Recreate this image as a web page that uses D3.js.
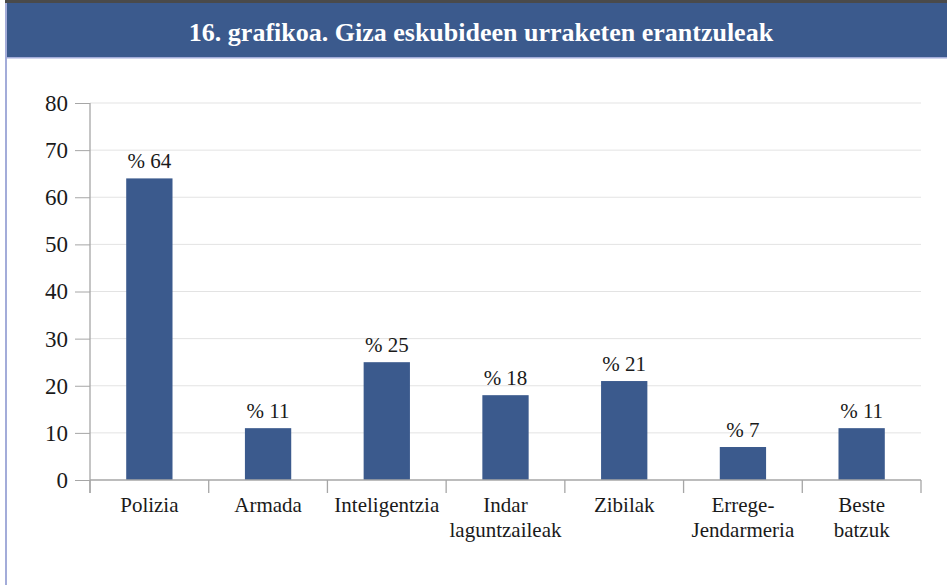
<!DOCTYPE html>
<html>
<head>
<meta charset="utf-8">
<script src="https://cdn.jsdelivr.net/npm/d3@7"></script>
<style>
  html, body { margin: 0; padding: 0; background: #fff; }
  svg { display: block; }
  svg text { font-family: "Liberation Serif", "Times New Roman", Tinos, "Nimbus Roman", "DejaVu Serif", serif; }
</style>
</head>
<body>
<div id="chart"></div>
<script>
// 16. grafikoa - bar chart of perpetrators, values in percent
var title = '16. grafikoa. Giza eskubideen urraketen erantzuleak';
var categories = [
    ['Polizia'],
    ['Armada'],
    ['Inteligentzia'],
    ['Indar', 'laguntzaileak'],
    ['Zibilak'],
    ['Errege-', 'Jendarmeria'],
    ['Beste', 'batzuk']
];
var values = [64, 11, 25, 18, 21, 7, 11];
var yTicks = [0, 10, 20, 30, 40, 50, 60, 70, 80];

var W = 947, H = 585;
var C = {
    band: '#3b5a8d',
    bar: '#3b5a8d',
    top: '#4a4a4a',
    border: '#a3acd9',
    grid: '#e3e3e3',
    axis: '#a6a6a6',
    text: '#1a1a1a'
};

var svg = d3.select('#chart').append('svg')
    .attr('width', W).attr('height', H)
    .attr('viewBox', '0 0 ' + W + ' ' + H);

// frame: dark top rule, blue title band, light left border
svg.append('rect').attr('x', 5).attr('y', 0).attr('width', W - 5).attr('height', 3)
    .attr('fill', C.top);
svg.append('rect').attr('x', 5).attr('y', 3).attr('width', W - 5).attr('height', 54)
    .attr('fill', C.band);
svg.append('rect').attr('x', 5).attr('y', 57).attr('width', W - 5).attr('height', 1.5)
    .attr('fill', C.border);
svg.append('rect').attr('x', 5).attr('y', 3).attr('width', 2).attr('height', H - 3)
    .attr('fill', C.border);

svg.append('text')
    .attr('x', 481).attr('y', 41)
    .attr('text-anchor', 'middle')
    .attr('fill', '#fff')
    .attr('font-weight', 'bold')
    .attr('font-size', 26)
    .text(title);

var margin = { left: 90, right: 26, top: 103, bottom: 105 };
var innerW = W - margin.left - margin.right;
var innerH = H - margin.top - margin.bottom;

var x = d3.scaleBand().domain(d3.range(categories.length)).range([0, innerW])
    .paddingInner(0.61).paddingOuter(0.305);
var xb = d3.scaleBand().domain(d3.range(categories.length)).range([0, innerW]);
var y = d3.scaleLinear().domain([0, 80]).range([innerH, 0]);

var g = svg.append('g')
    .attr('transform', 'translate(' + margin.left + ',' + margin.top + ')');

// gridlines
g.append('g').selectAll('line').data(yTicks.slice(1)).join('line')
    .attr('x1', 0).attr('x2', innerW)
    .attr('y1', function (d) { return y(d); })
    .attr('y2', function (d) { return y(d); })
    .attr('stroke', C.grid).attr('stroke-width', 1);

// bars
g.append('g').selectAll('rect').data(values).join('rect')
    .attr('x', function (d, i) { return x(i); })
    .attr('width', x.bandwidth())
    .attr('y', function (d) { return y(d); })
    .attr('height', function (d) { return innerH - y(d); })
    .attr('fill', C.bar);

// value labels
g.append('g').selectAll('text').data(values).join('text')
    .attr('x', function (d, i) { return x(i) + x.bandwidth() / 2; })
    .attr('y', function (d) { return y(d) - 10; })
    .attr('text-anchor', 'middle')
    .attr('fill', C.text)
    .attr('font-size', 21)
    .text(function (d) { return '% ' + d; });

// y axis
var yAxis = d3.axisLeft(y).tickValues(yTicks).tickSize(15).tickPadding(7).tickSizeOuter(0);
var yg = g.append('g').call(yAxis).attr('font-family', null);
yg.select('.domain').remove();
yg.selectAll('line').attr('stroke', C.axis);
yg.selectAll('text').attr('fill', C.text).attr('font-size', 23);
g.append('line').attr('x1', 0).attr('x2', 0).attr('y1', 0).attr('y2', innerH + 13)
    .attr('stroke', C.axis).attr('stroke-width', 1.3);

// x axis: baseline plus boundary ticks between categories
g.append('line').attr('x1', 0).attr('x2', innerW).attr('y1', innerH).attr('y2', innerH)
    .attr('stroke', C.axis).attr('stroke-width', 1.3);
var bounds = d3.range(categories.length + 1);
g.append('g').selectAll('line').data(bounds).join('line')
    .attr('x1', function (d) { return d * xb.step(); })
    .attr('x2', function (d) { return d * xb.step(); })
    .attr('y1', innerH).attr('y2', innerH + 13)
    .attr('stroke', C.axis).attr('stroke-width', 1.3);

// category labels
var cl = g.append('g').selectAll('text').data(categories).join('text')
    .attr('text-anchor', 'middle')
    .attr('fill', C.text)
    .attr('font-size', 21)
    .attr('transform', function (d, i) {
        return 'translate(' + (xb(i) + xb.bandwidth() / 2) + ',' + (innerH + 32) + ')';
    });
cl.selectAll('tspan').data(function (d) { return d; }).join('tspan')
    .attr('x', 0)
    .attr('dy', function (d, i) { return i === 0 ? 0 : 25; })
    .text(function (d) { return d; });
</script>
</body>
</html>
